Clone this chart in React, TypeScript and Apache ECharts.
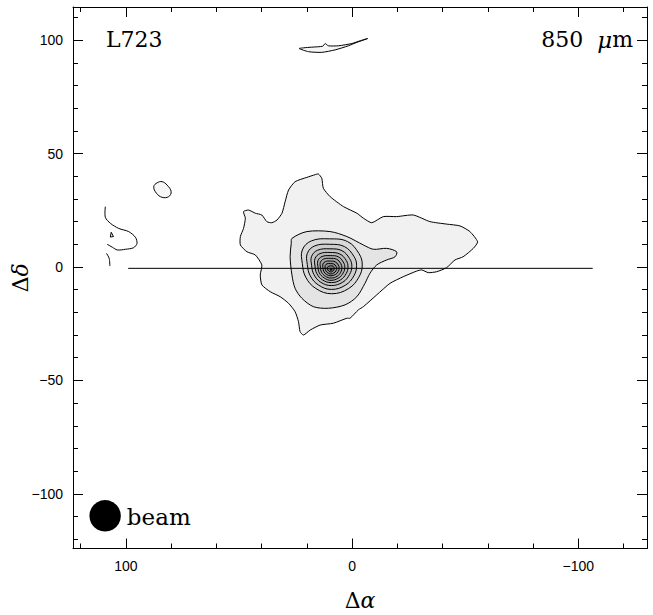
import React, { useEffect, useRef } from "react";
import * as echarts from "echarts";

// ---------- axes / ticks ----------
const X_RANGE = [-130.4, 123.4];
const Y_RANGE = [-124.1, 114.6];
const X_MAJOR_TICKS = [100, 0, -100];
const X_MINOR_TICKS = [120, 80, 60, 40, 20, -20, -40, -60, -80, -120];
const Y_MAJOR_TICKS = [100, 50, 0, -50, -100];
const Y_MINOR_TICKS = [110, 90, 80, 70, 60, 40, 30, 20, 10, -10, -20, -30, -40, -60, -70, -80, -90, -110, -120];

// ---------- contours (Δα, Δδ in arcsec) ----------
const CONTOUR_LEVEL_1 = [
  [48.0, 24.4], [45.8, 25.1], [42.8, 23.7], [39.9, 22.9], [37.7, 20.0], [35.5, 19.5], [33.2, 20.7],
  [31.0, 23.7], [29.6, 28.8], [28.1, 33.9], [25.2, 37.6], [20.0, 39.5], [16.3, 40.7], [14.9, 41.0],
  [13.4, 39.1], [12.7, 34.7], [9.7, 31.0], [3.8, 26.6], [-2.1, 23.7], [-5.0, 21.5], [-8.7, 19.5],
  [-13.8, 22.2], [-19.7, 22.2], [-27.1, 22.9], [-34.4, 20.0], [-41.8, 18.9], [-47.7, 18.1],
  [-52.1, 15.6], [-55.5, 11.1], [-53.6, 8.2], [-49.1, 4.5], [-45.5, 3.1], [-41.8, -0.3],
  [-37.4, -2.1], [-33.7, -2.5], [-30.8, -1.3], [-28.6, -1.8], [-22.6, -4.3], [-16.8, -7.2],
  [-10.9, -12.3], [-5.0, -17.5], [-2.8, -18.9], [0.9, -22.6], [2.3, -22.6], [8.3, -24.8],
  [14.1, -25.6], [18.5, -27.8], [21.5, -30.0], [23.0, -28.5], [23.7, -24.1], [25.2, -19.7],
  [28.1, -16.0], [31.8, -13.1], [36.2, -10.9], [39.9, -7.9], [40.6, -3.5], [39.9, 0.9],
  [42.8, 5.3], [46.5, 6.7], [49.4, 9.7], [49.4, 13.4], [48.0, 17.0], [47.2, 21.5],
];
const CONTOUR_LEVEL_2 = [
  [26.6, 12.6], [20.0, 15.6], [9.7, 15.6], [2.3, 13.4], [-5.0, 9.7], [-9.4, 7.8], [-15.3, 8.2],
  [-19.7, 6.7], [-19.0, 4.5], [-15.3, 3.1], [-10.9, 0.9], [-7.9, -2.8], [-5.7, -7.2], [-2.1, -13.1],
  [3.1, -16.7], [10.5, -18.2], [17.1, -17.5], [22.2, -13.8], [25.2, -9.4], [26.6, -3.5],
  [27.4, 4.5], [26.9, 10.4],
];
const CONTOUR_LEVEL_3 = [
  [22.0, 7.5], [18.0, 11.5], [10.0, 12.4], [2.0, 11.2], [-3.0, 6.0], [-4.5, 0.9], [-3.0, -4.5],
  [1.5, -9.5], [9.0, -11.8], [16.0, -9.5], [20.5, -4.5], [22.0, 1.5],
];
const CONTOUR_LEVEL_4 = [
  [19.8, 6.0], [16.5, 9.3], [9.9, 10.0], [3.4, 9.0], [-0.8, 4.7], [-2.0, 0.6], [-0.8, -3.9],
  [2.9, -8.0], [9.1, -9.9], [14.8, -8.0], [18.5, -3.9], [19.8, 1.1],
];
const CONTOUR_LEVEL_5 = [
  [17.9, 4.7], [15.2, 7.4], [9.8, 8.0], [4.5, 7.2], [1.1, 3.7], [0.1, 0.3], [1.1, -3.3],
  [4.1, -6.7], [9.2, -8.2], [13.9, -6.7], [16.9, -3.3], [17.9, 0.7],
];
const CONTOUR_LEVEL_6 = [
  [16.4, 3.7], [14.2, 5.9], [9.8, 6.4], [5.4, 5.7], [2.6, 2.9], [1.8, 0.0], [2.6, -2.9],
  [5.1, -5.7], [9.2, -6.9], [13.1, -5.7], [15.6, -2.9], [16.4, 0.4],
];
const CONTOUR_LEVEL_7 = [
  [15.1, 2.8], [13.3, 4.6], [9.7, 5.0], [6.1, 4.5], [3.9, 2.2], [3.2, -0.1], [3.9, -2.6],
  [5.9, -4.8], [9.3, -5.9], [12.4, -4.8], [14.5, -2.6], [15.1, 0.1],
];
const CONTOUR_LEVEL_8 = [
  [14.0, 2.1], [12.6, 3.5], [9.7, 3.8], [6.8, 3.4], [5.0, 1.5], [4.5, -0.3], [5.0, -2.3],
  [6.6, -4.1], [9.3, -4.9], [11.8, -4.1], [13.5, -2.3], [14.0, -0.1],
];
const CONTOUR_LEVEL_9 = [
  [12.9, 1.3], [11.8, 2.4], [9.6, 2.6], [7.5, 2.3], [6.1, 0.9], [5.7, -0.5], [6.1, -2.0],
  [7.3, -3.3], [9.4, -3.9], [11.3, -3.3], [12.5, -2.0], [12.9, -0.3],
];
const CONTOUR_LEVEL_10 = [
  [11.9, 0.6], [11.1, 1.4], [9.6, 1.5], [8.1, 1.3], [7.1, 0.3], [6.8, -0.6], [7.1, -1.7],
  [8.0, -2.6], [9.4, -3.1], [10.7, -2.6], [11.6, -1.7], [11.9, -0.5],
];
const CONTOUR_LEVEL_11 = [
  [10.9, -0.1], [9.6, 0.5], [8.4, 0.3], [7.9, -0.8], [8.6, -1.9], [9.4, -2.2], [10.3, -1.8], [10.9, -0.9],
];
const CONTOUR_PEAK = [[9.8, -1.4], [8.8, -1.4], [9.3, -0.5]];

const CONTOUR_ISLAND = [
  [87.7, 35.4], [86.2, 37.1], [84.0, 37.6], [81.8, 36.1], [80.0, 33.2], [81.1, 31.0], [84.0, 30.7], [86.5, 32.5],
];
const CONTOUR_NORTH = [
  [23.4, 96.3], [19.3, 94.9], [13.4, 94.6], [7.5, 95.7], [1.6, 97.5], [-2.1, 99.0], [-6.9, 100.7],
  [-3.5, 99.7], [0.1, 98.5], [6.0, 97.5], [10.5, 97.5], [11.9, 98.5], [13.0, 97.3], [17.8, 96.9], [21.5, 96.6],
];
const CONTOUR_EDGE_A = [
  [109.1, 26.6], [109.1, 21.9], [106.8, 19.2], [103.2, 17.0], [98.8, 15.6], [95.8, 13.1], [95.1, 10.4],
  [96.6, 8.5], [100.2, 7.8], [103.8, 7.5], [106.0, 8.7], [108.3, 10.0],
];
const CONTOUR_EDGE_B = [[108.6, 6.0], [107.4, 3.8], [107.1, 0.4]];
const CONTOUR_EDGE_C = [[106.5, 15.3], [106.9, 13.2], [105.5, 13.4]];

const CUT_LINE = [[99.0, -0.6], [-106.4, -0.6]];
const BEAM = [109.2, -109.7, 13.9]; // centre x, centre y, diameter (arcsec)

const minusFmt = (v: number) => (v < 0 ? "\u2212" + Math.abs(v) : String(v));

export default function App() {
  const ref = useRef<HTMLDivElement>(null);
  useEffect(() => {
    if (!ref.current) return;
    const chart = echarts.init(ref.current, null, { renderer: "svg" });

    const shapes = [
      { pts: CONTOUR_LEVEL_1, closed: true, fill: "#f1f1f1", smooth: 0.2 },
      { pts: CONTOUR_LEVEL_2, closed: true, fill: "#e4e4e4", smooth: 0.3 },
      { pts: CONTOUR_LEVEL_3, closed: true, fill: "#d8d8d8", smooth: 0.4 },
      { pts: CONTOUR_LEVEL_4, closed: true, fill: "#cdcdcd", smooth: 0.4 },
      { pts: CONTOUR_LEVEL_5, closed: true, fill: "#c3c3c3", smooth: 0.4 },
      { pts: CONTOUR_LEVEL_6, closed: true, fill: "#b9b9b9", smooth: 0.4 },
      { pts: CONTOUR_LEVEL_7, closed: true, fill: "#afafaf", smooth: 0.4 },
      { pts: CONTOUR_LEVEL_8, closed: true, fill: "#a5a5a5", smooth: 0.4 },
      { pts: CONTOUR_LEVEL_9, closed: true, fill: "#9b9b9b", smooth: 0.4 },
      { pts: CONTOUR_LEVEL_10, closed: true, fill: "#919191", smooth: 0.4 },
      { pts: CONTOUR_LEVEL_11, closed: true, fill: "#878787", smooth: 0.4 },
      { pts: CONTOUR_PEAK, closed: true, fill: "#7d7d7d", smooth: 0 },
      { pts: CONTOUR_ISLAND, closed: true, fill: "#f6f6f6", smooth: 0.4 },
      { pts: CONTOUR_NORTH, closed: true, fill: "#f6f6f6", smooth: 0.2 },
      { pts: CONTOUR_EDGE_A, closed: false, fill: "none", smooth: 0.3 },
      { pts: CONTOUR_EDGE_B, closed: false, fill: "none", smooth: 0.3 },
      { pts: CONTOUR_EDGE_C, closed: true, fill: "none", smooth: 0 },
    ];

    const axisLine = { show: true, onZero: false, lineStyle: { color: "#000", width: 1 } };
    const hiddenLine = { show: false, onZero: false };
    const baseAxis = { type: "value" as const, splitLine: { show: false } };
    const xBase = { ...baseAxis, min: X_RANGE[0], max: X_RANGE[1], inverse: true };
    const yBase = { ...baseAxis, min: Y_RANGE[0], max: Y_RANGE[1] };
    const tick = (vals: number[], len: number) => ({
      show: true, inside: true, length: len, customValues: vals, lineStyle: { color: "#000", width: 1 },
    });
    const noLabel = { show: false };
    const label = (vals: number[], margin: number) => ({
      show: true, customValues: vals, margin, formatter: minusFmt,
      color: "#000", fontSize: 14, fontFamily: "Liberation Sans",
    });
    const serifRich = {
      d: { fontFamily: "DejaVu Serif", fontSize: 22, color: "#000" },
      a: { fontFamily: "DejaVu Serif", fontSize: 22, fontStyle: "italic", color: "#000" },
    };

    chart.setOption({
      animation: false,
      grid: { left: 73, top: 7, width: 574, height: 541.5, containLabel: false, outerBoundsMode: "none" },
      xAxis: [
        {
          ...xBase, position: "bottom", axisLine, axisTick: tick(X_MAJOR_TICKS, 10),
          axisLabel: label(X_MAJOR_TICKS, 10),
          name: "{d|\u0394}{a|\u03b1}", nameLocation: "middle", nameGap: 41, nameMoveOverlap: false,
          nameTextStyle: { rich: serifRich },
        },
        { ...xBase, position: "bottom", axisLine: hiddenLine, axisTick: tick(X_MINOR_TICKS, 5), axisLabel: noLabel },
        { ...xBase, position: "top", axisLine, axisTick: tick(X_MAJOR_TICKS, 10), axisLabel: noLabel },
        { ...xBase, position: "top", axisLine: hiddenLine, axisTick: tick(X_MINOR_TICKS, 5), axisLabel: noLabel },
      ],
      yAxis: [
        {
          ...yBase, position: "left", axisLine, axisTick: tick(Y_MAJOR_TICKS, 10),
          axisLabel: label(Y_MAJOR_TICKS, 10),
          name: "{d|\u0394}{a|\u03b4}", nameLocation: "middle", nameGap: 42, nameRotate: 90,
          nameMoveOverlap: false,
          nameTextStyle: { rich: serifRich },
        },
        { ...yBase, position: "left", axisLine: hiddenLine, axisTick: tick(Y_MINOR_TICKS, 5), axisLabel: noLabel },
        { ...yBase, position: "right", axisLine, axisTick: tick(Y_MAJOR_TICKS, 10), axisLabel: noLabel },
        { ...yBase, position: "right", axisLine: hiddenLine, axisTick: tick(Y_MINOR_TICKS, 5), axisLabel: noLabel },
      ],
      series: [
        {
          type: "custom",
          coordinateSystem: "cartesian2d",
          xAxisIndex: 0,
          yAxisIndex: 0,
          silent: true,
          clip: false,
          data: shapes.map((s, i) => [s.pts[0][0], s.pts[0][1], i]),
          renderItem: (params: any, api: any) => {
            const s = shapes[api.value(2)];
            const points = s.pts.map((p) => api.coord(p));
            return {
              type: s.closed ? "polygon" : "polyline",
              shape: { points, smooth: s.smooth },
              style: { fill: s.closed ? s.fill : "none", stroke: "#000", lineWidth: 1 },
            };
          },
          z: 2,
        },
        {
          type: "line",
          xAxisIndex: 0,
          yAxisIndex: 0,
          data: CUT_LINE,
          symbol: "none",
          silent: true,
          lineStyle: { color: "#000", width: 1 },
          z: 3,
        },
        {
          type: "custom",
          coordinateSystem: "cartesian2d",
          xAxisIndex: 0,
          yAxisIndex: 0,
          silent: true,
          clip: false,
          data: [BEAM],
          renderItem: (params: any, api: any) => {
            const c = api.coord([api.value(0), api.value(1)]);
            const d = api.size([api.value(2), 0])[0];
            return {
              type: "group",
              children: [
                { type: "circle", shape: { cx: c[0], cy: c[1], r: d / 2 }, style: { fill: "#000" } },
                {
                  type: "text",
                  x: c[0] + d / 2 + 6,
                  y: c[1] + 1,
                  style: {
                    text: "beam", fill: "#000", font: '23px "DejaVu Serif"',
                    textAlign: "left", textVerticalAlign: "middle",
                  },
                },
              ],
            };
          },
          z: 4,
        },
      ],
      graphic: [
        {
          type: "text", left: 106, top: 28,
          style: { text: "L723", fill: "#000", font: '22px "DejaVu Serif"' },
        },
        {
          type: "text", right: 20, top: 28,
          style: {
            text: "{d|850  }{a|\u03bc}{d|m}",
            fill: "#000",
            rich: {
              d: { fontFamily: "DejaVu Serif", fontSize: 22, fill: "#000" },
              a: { fontFamily: "DejaVu Serif", fontSize: 23, fontStyle: "italic", fill: "#000" },
            },
          },
        },
      ],
    });
    return () => chart.dispose();
  }, []);
  return (
    <div
      ref={ref}
      style={{ position: "absolute", left: 0, top: 0, width: 653, height: 615, background: "#fff" }}
    />
  );
}
